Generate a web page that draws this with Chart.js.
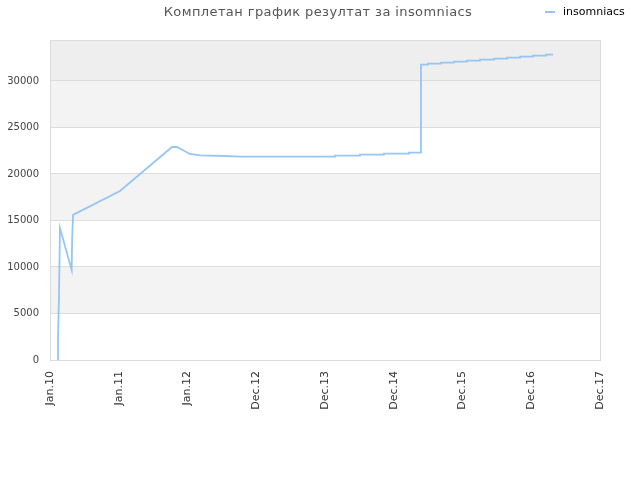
<!DOCTYPE html>
<html>
<head>
<meta charset="utf-8">
<script src="https://cdn.jsdelivr.net/npm/chart.js@4.4.1/dist/chart.umd.min.js"></script>
<style>
    body { margin: 0; background: #fff; }
    #wrap { position: relative; width: 640px; height: 480px; }
    #title {
        position: absolute; top: 4px; left: 0; width: 636px; text-align: center;
        font: 13px "DejaVu Sans", sans-serif; color: #555; letter-spacing: 0.4px;
    }
    #legend {
        position: absolute; top: 5px; left: 545px;
        font: 11px "DejaVu Sans", sans-serif; color: #000;
    }
    #legend span.sw {
        display: inline-block; width: 10px; height: 2px; background: #97c5f3;
        vertical-align: middle; margin-right: 8px;
    }
</style>
</head>
<body>
<div id="wrap">
    <canvas id="myChart" width="640" height="480"></canvas>
    <div id="title">Комплетан график резултат за insomniacs</div>
    <div id="legend"><span class="sw"></span>insomniacs</div>
</div>
<script>
// tick labels along the time axis (one per unit)
const xLabels = ["Jan.10", "Jan.11", "Jan.12", "Dec.12", "Dec.13", "Dec.14", "Dec.15", "Dec.16", "Dec.17"];

// ticks on the value axis
const yTicks = [0, 5000, 10000, 15000, 20000, 25000, 30000];

// positions on the time axis (in tick units) and the score at each
const xPositions = [
    0.116, 0.116, 0.130, 0.145, 0.315, 0.322, 0.335, 1.018, 1.775, 1.847,
    2.036, 2.182, 2.545, 2.764, 4.145, 4.145, 4.509, 4.509, 4.858, 4.858,
    5.222, 5.222, 5.396, 5.396, 5.498, 5.498, 5.687, 5.687, 5.876, 5.876,
    6.065, 6.065, 6.255, 6.255, 6.458, 6.458, 6.647, 6.647, 6.836, 6.836,
    7.025, 7.025, 7.215, 7.215, 7.316
];
const scores = [
    0, 2300, 6560, 14200, 9680, 13000, 15600, 18170, 22900, 22900,
    22150, 22000, 21930, 21860, 21860, 21970, 21970, 22070, 22070, 22180,
    22180, 22290, 22290, 31750, 31750, 31860, 31860, 31970, 31970, 32080,
    32080, 32180, 32180, 32290, 32290, 32400, 32400, 32500, 32500, 32610,
    32610, 32720, 32720, 32830, 32830
];

// background bands on the value axis
const bandStarts = [5000, 15000, 25000, 30000];
const bandEnds = [10000, 20000, 30000, 34400];
const bandColors = ["#f3f3f3", "#f3f3f3", "#f3f3f3", "#eeeeee"];

const points = xPositions.map((x, i) => ({ x: x, y: scores[i] }));

// fills the striped background and the frame round the plot
const bandsPlugin = {
    id: 'bands',
    beforeDraw(chart) {
        const ctx = chart.ctx;
        const area = chart.chartArea;
        const y = chart.scales.y;
        ctx.save();
        bandStarts.forEach((start, i) => {
            const top = y.getPixelForValue(bandEnds[i]);
            const bottom = y.getPixelForValue(start);
            ctx.fillStyle = bandColors[i];
            ctx.fillRect(area.left, top, area.right - area.left, bottom - top);
        });
        ctx.restore();
    },
    afterDatasetsDraw(chart) {
        const ctx = chart.ctx;
        const area = chart.chartArea;
        ctx.save();
        ctx.strokeStyle = '#dcdcdc';
        ctx.lineWidth = 1;
        ctx.strokeRect(area.left + 0.5, area.top + 0.5, area.right - area.left, area.bottom - area.top);
        ctx.restore();
    }
};

const ctx = document.getElementById("myChart").getContext("2d");
const chart = new Chart(ctx, {
    type: 'line',
    data: {
        datasets: [{
            label: 'insomniacs',
            data: points,
            borderColor: 'rgba(140, 192, 242, 0.9)',
            borderWidth: 1.8,
            pointRadius: 0,
            tension: 0,
            fill: false
        }]
    },
    options: {
        responsive: false,
        animation: false,
        layout: { padding: { top: 40, right: 40, left: 0, bottom: 0 } },
        plugins: {
            legend: { display: false },
            title: { display: false },
            tooltip: { enabled: false }
        },
        scales: {
            x: {
                type: 'linear',
                min: 0,
                max: 8,
                afterFit(scale) { scale.height = 120; },
                grid: { display: false, drawTicks: false },
                border: { display: false },
                ticks: {
                    stepSize: 1,
                    minRotation: 90,
                    maxRotation: 90,
                    padding: 11,
                    color: '#333',
                    font: { family: 'DejaVu Sans', size: 11 },
                    callback: value => xLabels[value]
                }
            },
            y: {
                min: 0,
                max: 34400,
                afterFit(scale) { scale.width = 50; },
                afterBuildTicks(scale) {
                    scale.ticks = yTicks.map(v => ({ value: v }));
                },
                grid: { color: '#dddddd', drawTicks: false },
                border: { display: false },
                ticks: {
                    autoSkip: false,
                    padding: 11,
                    color: '#444',
                    font: { family: 'DejaVu Sans', size: 10 },
                    callback: value => String(value)
                }
            }
        }
    },
    plugins: [bandsPlugin]
});
</script>
</body>
</html>
